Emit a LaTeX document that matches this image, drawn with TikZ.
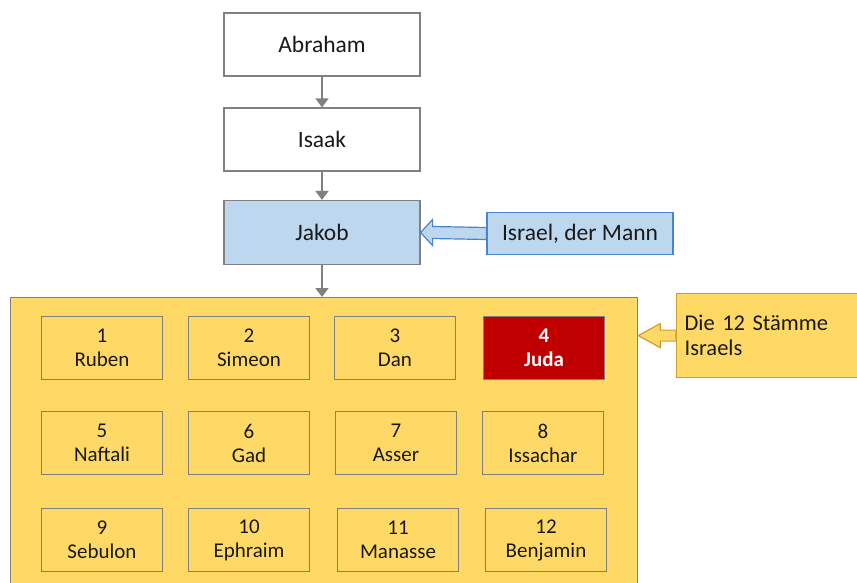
\documentclass[tikz,border=0pt]{standalone}
\usepackage{fontspec}
\setmainfont{Carlito}
\usetikzlibrary{arrows.meta,calc}
\definecolor{boxgray}{RGB}{128,128,128}
\definecolor{lightblue}{RGB}{189,215,238}
\definecolor{boxblue}{RGB}{72,134,204}
\definecolor{gold}{RGB}{255,217,102}
\definecolor{darkgold}{RGB}{205,160,45}
\definecolor{judared}{RGB}{192,0,0}
\definecolor{ink}{RGB}{25,25,25}
\tikzset{
  person/.style={draw=boxgray,line width=1.2pt,fill=white,minimum width=196pt,minimum height=63pt,
    text=ink,font=\fontsize{23.5}{27}\selectfont},
  tribe/.style={draw=boxgray,line width=1.2pt,fill=gold,minimum width=121pt,minimum height=63pt,
    align=center,text=ink,font=\fontsize{21}{24}\selectfont},
  flow/.style={draw=boxgray,line width=1.6pt,-{Triangle[width=13pt,length=9pt]}},
}
\begin{document}
\begin{tikzpicture}[x=1pt,y=-1pt]
            \useasboundingbox (0,0) rectangle (857,582);

            % Stammvaeter
            \node[person] (abraham) at (322,44.5) {Abraham};
            \node[person] (isaak) at (322,139.5) {Isaak};
            \node[person,fill=lightblue,minimum height=64pt] (jakob) at (322,232.5) {Jakob};

            % Israel, der Mann
            \node[draw=boxblue,line width=1.2pt,fill=lightblue,minimum width=186pt,minimum height=42pt,
              text=ink,font=\fontsize{23.5}{27}\selectfont] (israel) at (580,233.5) {Israel, der Mann};
            \draw[draw=boxblue,line width=1.2pt,fill=lightblue] (jakob.east) -- ++(12,-13) -- ++(0,7)
              -- ($(israel.west)+(0,-6)$) -- ($(israel.west)+(0,6)$) -- ($(jakob.east)+(12,6)$)
              -- ++(0,7) -- cycle;

            % Die 12 Staemme
            \node[draw=boxgray,line width=1.2pt,fill=gold,minimum width=627pt,minimum height=300pt,
              anchor=north west] (stamm) at (10,297) {};
            \node[tribe] (t1) at (102,348) {1\\Ruben};
            \node[tribe] (t2) at (249,348) {2\\Simeon};
            \node[tribe] (t3) at (395,348) {3\\Dan};
            \node[tribe,fill=judared,text=white,font=\fontsize{21}{24}\selectfont\bfseries] (t4) at (544,348) {4\\Juda};
            \node[tribe] (t5) at (102,443) {5\\Naftali};
            \node[tribe] (t6) at (249,443) {6\\Gad};
            \node[tribe] (t7) at (396,443) {7\\Asser};
            \node[tribe] (t8) at (543,443) {8\\Issachar};
            \node[tribe] (t9) at (102,540) {9\\Sebulon};
            \node[tribe] (t10) at (249,540) {10\\Ephraim};
            \node[tribe] (t11) at (398,540) {11\\Manasse};
            \node[tribe] (t12) at (546,540) {12\\Benjamin};

            % Hinweis rechts
            \node[draw=darkgold,line width=1.2pt,fill=gold,text width=170pt,inner xsep=8pt,minimum height=84pt,
              align=left,anchor=north west,text=ink,font=\fontsize{22.5}{25}\selectfont] (hinweis) at (676,293)
              {Die 12 St\"amme\\Israels};
            \draw[draw=darkgold,line width=1.2pt,fill=gold] (stamm.east |- hinweis.west) -- ++(22,-12) -- ++(0,6.5)
              -- ($(hinweis.west)+(0,-5.5)$) -- ($(hinweis.west)+(0,5.5)$) -- ($(stamm.east |- hinweis.west)+(22,5.5)$)
              -- ++(0,6.5) -- cycle;

            % Pfeile
            \draw[flow] (abraham) -- (isaak);
            \draw[flow] (isaak) -- (jakob);
            \draw[flow] (jakob.south) -- (jakob.south |- stamm.north);
        \end{tikzpicture}
\end{document}
